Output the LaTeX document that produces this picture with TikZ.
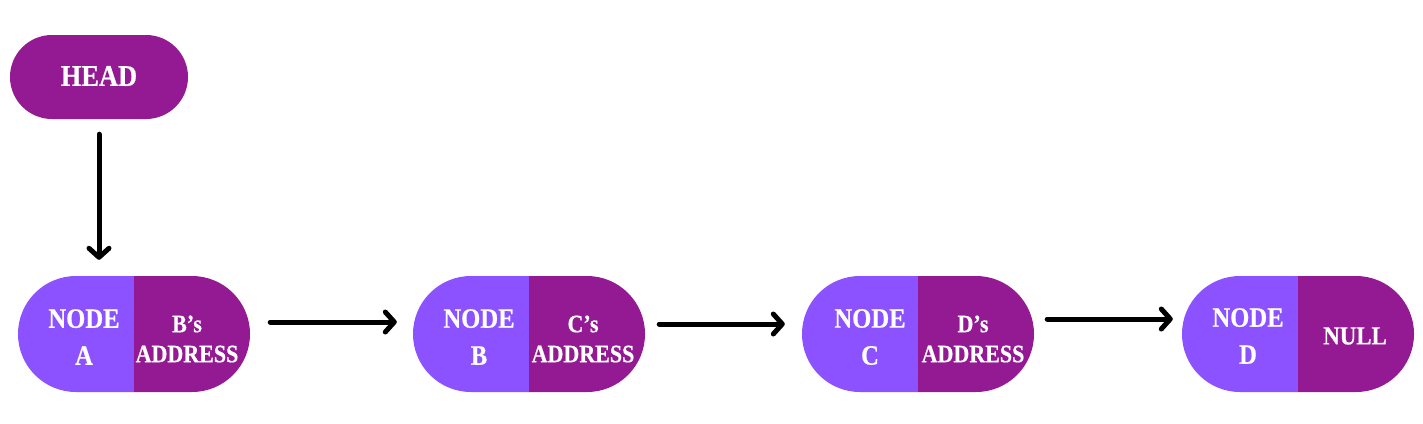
\documentclass[tikz,border=0pt]{standalone}
\usepackage{fontspec}
\setmainfont{Liberation Serif}
\newfontfamily\pfont[FakeStretch=0.88,FakeBold=0.6]{Liberation Serif}
\usetikzlibrary{shapes.misc,arrows.meta,calc}
\definecolor{dpurple}{HTML}{931A93}
\definecolor{lviolet}{HTML}{8C52FF}
\tikzset{
  lefthalf/.style={rounded rectangle, rounded rectangle right arc=none, fill=lviolet, draw=none,
    minimum width=116pt, minimum height=116pt, inner sep=0pt},
  righthalf/.style={rounded rectangle, rounded rectangle left arc=none, fill=dpurple, draw=none,
    minimum width=116pt, minimum height=116pt, inner sep=0pt},
  headbox/.style={rounded rectangle, fill=dpurple, draw=none, minimum width=178pt, minimum height=84pt, inner sep=0pt},
  nodetxt/.style={text=white, font=\pfont\bfseries\fontsize{28}{37}\selectfont, align=center, inner sep=0pt},
  addrtxt/.style={text=white, font=\pfont\bfseries\fontsize{25}{30}\selectfont, align=center, inner sep=0pt},
  arr/.style={line width=5pt, line cap=round, -{Straight Barb[length=9pt,width=20pt,line cap=round,round]}}
}
\begin{document}
\begin{tikzpicture}[x=1pt,y=-1pt]
\useasboundingbox (0,0) rectangle (1423,423);
% HEAD
\node[headbox] (head) at (99,77) {};
\node[text=white, font=\pfont\bfseries\fontsize{30}{34}\selectfont, inner sep=0pt] (headt) at (99,76) {HEAD};
% list nodes
\node[lefthalf] (aL) at (76,334) {};
\node[righthalf] (aR) at (192,334) {};
\node[lefthalf] (bL) at (471,334) {};
\node[righthalf] (bR) at (587,334) {};
\node[lefthalf] (cL) at (860,334) {};
\node[righthalf] (cR) at (976,334) {};
\node[lefthalf] (dL) at (1240,334) {};
\node[righthalf] (dR) at (1356,334) {};
% texts
\node[nodetxt] (aT) at (84,337) {NODE\\A};
\node[addrtxt] (aA) at (187,339) {B’s\\ADDRESS};
\node[nodetxt] (bT) at (479,337) {NODE\\B};
\node[addrtxt] (bA) at (583,339) {C’s\\ADDRESS};
\node[nodetxt] (cT) at (870,337) {NODE\\C};
\node[addrtxt] (cA) at (973,339) {D’s\\ADDRESS};
\node[nodetxt] (dT) at (1248,336) {NODE\\D};
\node[text=white, font=\pfont\bfseries\fontsize{26}{30}\selectfont, inner sep=0pt] (dA) at (1355,336) {NULL};
% arrows
\draw[arr] ([yshift=-15pt]head.south) -- ([yshift=16pt]head.south |- aL.north);
\draw[arr] ([shift={(20,-12)}]aR.east) -- ([shift={(-16,-12)}]bL.west);
\draw[arr] ([shift={(14,-10)}]bR.east) -- ([shift={(-17,-10)}]cL.west);
\draw[arr] ([shift={(13,-15)}]cR.east) -- ([shift={(-9,-15)}]dL.west);
\end{tikzpicture}
\end{document}
